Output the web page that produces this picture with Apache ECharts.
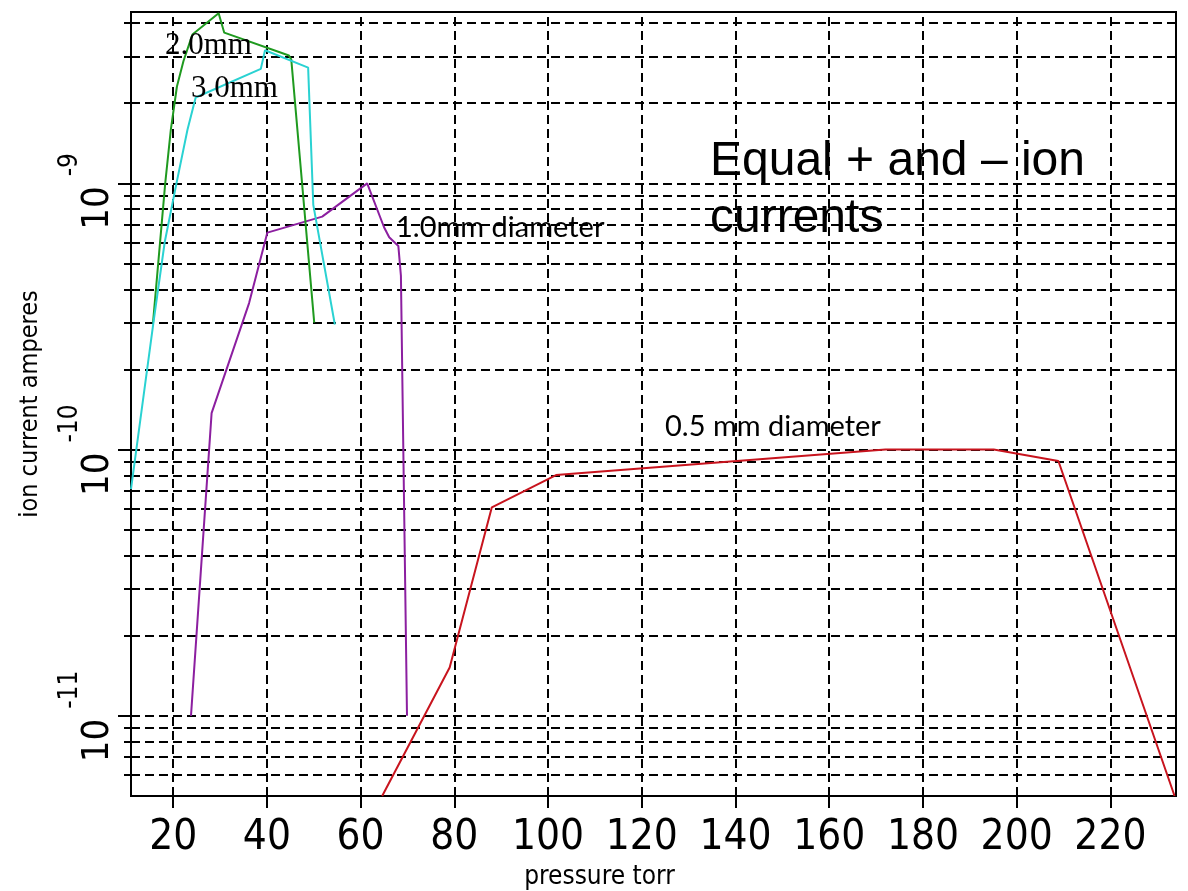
<!DOCTYPE html>
<html>
<head>
<meta charset="utf-8">
<script src="https://cdn.jsdelivr.net/npm/echarts@6/dist/echarts.min.js"></script>
<style>
  html, body { margin: 0; padding: 0; background: #fff; }
  #chart-container { width: 1188px; height: 891px; }
</style>
</head>
<body>
<div id="chart-container"></div>
<script>
"use strict";

// pressure (torr) and ion current (A)
var pressure05 = [64.6, 79.0, 88.0, 101.7, 172.0, 195.1, 208.9, 233.7];
var current05  = [5.0e-12, 1.52e-11, 6.07e-11, 8.02e-11, 1.0e-10, 1.0e-10, 9.06e-11, 5.0e-12];

var pressure10 = [23.8, 28.2, 36.2, 40.1, 51.8, 61.4, 65.0, 66.1, 68.05, 68.6, 69.9];
var current10  = [1.0e-11, 1.37e-10, 3.55e-10, 6.53e-10, 7.5e-10, 1.0e-9, 6.84e-10, 6.27e-10, 5.82e-10, 4.49e-10, 1.0e-11];

var pressure20 = [15.7, 17.2, 18.3, 19.5, 20.8, 22.2, 24.1, 29.7, 30.9, 44.7, 45.2, 50.1];
var current20  = [3.0e-10, 6.0e-10, 1.0e-9, 1.59e-9, 2.31e-9, 2.88e-9, 3.62e-9, 4.35e-9, 3.68e-9, 3.02e-9, 2.92e-9, 3.0e-10];

var pressure30 = [11.0, 15.8, 18.2, 20.7, 23.05, 24.8, 38.7, 39.6, 48.8, 49.9, 54.5];
var current30  = [7.1e-11, 3.01e-10, 6.02e-10, 1.0e-9, 1.59e-9, 2.1e-9, 2.69e-9, 3.16e-9, 2.72e-9, 8.3e-10, 2.95e-10];

// axes
var xMin = 11, xMax = 234;
var yMin = 5e-12, yMax = 4.4e-9;
var xTicks = [20, 40, 60, 80, 100, 120, 140, 160, 180, 200, 220];
var yDecades = [1e-11, 1e-10, 1e-9];
var yMinor = [6e-12, 7e-12, 8e-12, 9e-12,
              2e-11, 3e-11, 4e-11, 5e-11, 6e-11, 7e-11, 8e-11, 9e-11,
              2e-10, 3e-10, 4e-10, 5e-10, 6e-10, 7e-10, 8e-10, 9e-10,
              2e-9, 3e-9, 4e-9];
var yGrid = yDecades.concat(yMinor);

function pairs(xs, ys) {
  return xs.map(function (x, i) { return [x, ys[i]]; });
}

function isDecade(v) {
  var e = Math.log10(v);
  return Math.abs(e - Math.round(e)) < 1e-6;
}

var narrow = "'Liberation Sans Narrow', 'DejaVu Sans Condensed', sans-serif";

var chart = echarts.init(document.getElementById('chart-container'));

function curve(name, xs, ys, color) {
  return {
    name: name,
    type: 'line',
    data: pairs(xs, ys),
    showSymbol: false,
    symbol: 'none',
    silent: true,
    z: 3,
    lineStyle: { color: color, width: 2 },
    itemStyle: { color: color }
  };
}

// dashed grid segments, placed through the axes
var gridSegs = xTicks.map(function (v) { return { coords: [[v, yMin], [v, yMax]] }; })
  .concat(yGrid.map(function (v) { return { coords: [[xMin, v], [xMax, v]] }; }));

var options = {
  animation: false,
  backgroundColor: '#fff',
  grid: {
    left: 131, right: 12, top: 12, bottom: 95,
    show: true, borderColor: '#000', borderWidth: 2,
    containLabel: false, outerBoundsMode: 'none'
  },
  xAxis: {
    type: 'value', min: xMin, max: xMax,
    axisLine: { show: true, lineStyle: { color: '#000', width: 2 } },
    axisTick: { show: true, customValues: xTicks, length: 12, lineStyle: { color: '#000', width: 2 } },
    axisLabel: {
      customValues: xTicks,
      formatter: function (v) { return v % 20 === 0 ? String(v) : ''; },
      margin: 21, color: '#000', fontFamily: narrow, fontSize: 42
    },
    splitLine: { show: false },
    name: 'pressure torr', nameLocation: 'middle', nameGap: 60,
    nameTextStyle: { color: '#000', fontFamily: narrow, fontSize: 26, padding: [0, 108, 0, 0] }
  },
  yAxis: [{
    type: 'log', logBase: 10, min: yMin, max: yMax, position: 'left',
    axisLine: { show: true, lineStyle: { color: '#000', width: 2 } },
    axisTick: { show: true, customValues: yDecades, length: 13, lineStyle: { color: '#000', width: 2 } },
    axisLabel: {
      customValues: yDecades,
      formatter: function (v) { return isDecade(v) ? '10' : ''; },
      rotate: 90, align: 'right', padding: [0, 3, 0, 0], margin: 14,
      color: '#000', fontFamily: narrow, fontSize: 38
    },
    splitLine: { show: false },
    name: 'ion current amperes', nameLocation: 'middle', nameGap: 88,
    nameTextStyle: { color: '#000', fontFamily: narrow, fontSize: 25 }
  }, {
    type: 'log', logBase: 10, min: yMin, max: yMax, position: 'left',
    axisLine: { show: false },
    axisTick: { show: true, customValues: yMinor, length: 7, lineStyle: { color: '#000', width: 2 } },
    axisLabel: {
      customValues: yDecades,
      formatter: function (v) { return isDecade(v) ? '-' + Math.round(-Math.log10(v)) : ''; },
      rotate: 90, align: 'left', padding: [0, 0, 0, 7], margin: 48,
      color: '#000', fontFamily: narrow, fontSize: 26
    },
    splitLine: { show: false }
  }],
  series: [{
    type: 'lines',
    coordinateSystem: 'cartesian2d',
    data: gridSegs,
    silent: true,
    z: 1,
    lineStyle: { color: '#000', width: 2, opacity: 1, type: [9, 5] }
  },
    curve('0.5 mm', pressure05, current05, '#c8141e'),
    curve('1.0 mm', pressure10, current10, '#8c1fa0'),
    curve('2.0 mm', pressure20, current20, '#1f9a1f'),
    curve('3.0 mm', pressure30, current30, '#2ad2d2')
  ],
  graphic: [
    { type: 'text', x: 165, y: 46, z: 10, style: { text: '2.0mm', font: "31px 'Liberation Serif', serif", fill: '#000', verticalAlign: 'middle' } },
    { type: 'text', x: 191, y: 89, z: 10, style: { text: '3.0mm', font: "31px 'Liberation Serif', serif", fill: '#000', verticalAlign: 'middle' } },
    { type: 'text', x: 396, y: 228, z: 10, style: { text: '1.0mm diameter', font: "29px Lato, sans-serif", fill: '#000', verticalAlign: 'middle' } },
    { type: 'text', x: 665, y: 427, z: 10, style: { text: '0.5 mm diameter', font: "29px Lato, sans-serif", fill: '#000', verticalAlign: 'middle' } },
    { type: 'text', x: 710, y: 162, z: 10, style: { text: 'Equal + and \u2013 ion', font: "48px 'Liberation Sans', Arial, sans-serif", fill: '#000', verticalAlign: 'middle' } },
    { type: 'text', x: 710, y: 219, z: 10, style: { text: 'currents', font: "48px 'Liberation Sans', Arial, sans-serif", fill: '#000', verticalAlign: 'middle' } }
  ]
};

chart.setOption(options);
</script>
</body>
</html>
